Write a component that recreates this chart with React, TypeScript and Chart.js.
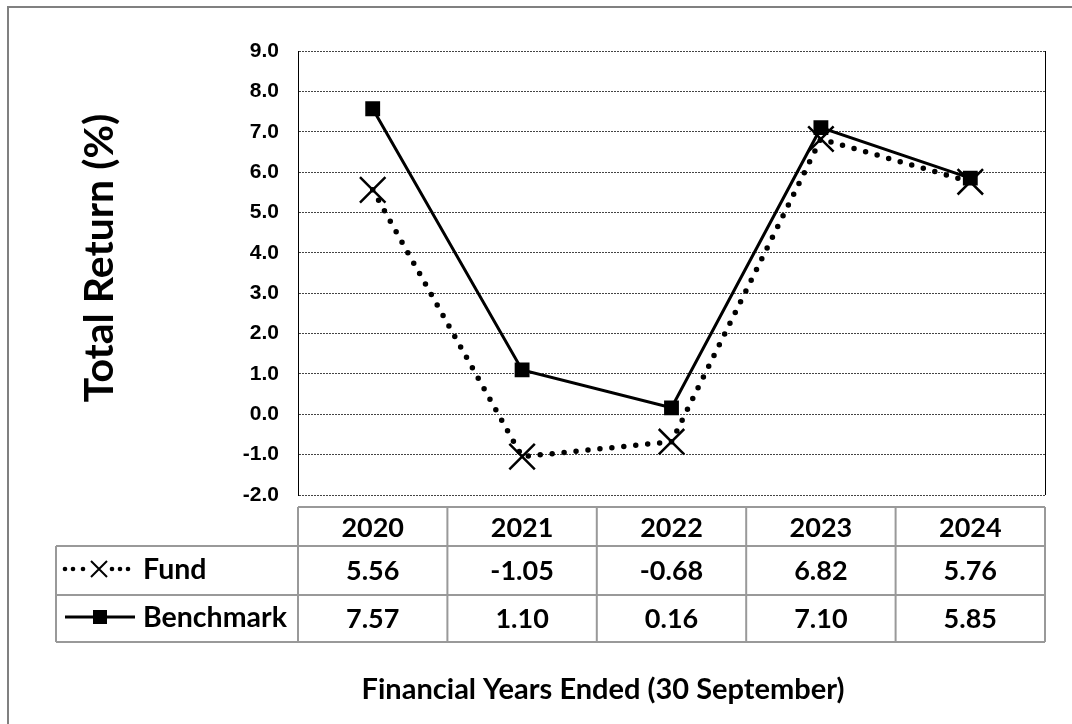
import React, { useEffect, useRef } from "react";
import { Chart, registerables } from "chart.js";

Chart.register(...registerables);

const years = ["2020", "2021", "2022", "2023", "2024"];
const fundValues = [5.56, -1.05, -0.68, 6.82, 5.76];
const benchmarkValues = [7.57, 1.1, 0.16, 7.1, 5.85];
const seriesNames = ["Fund", "Benchmark"];
const yMin = -2;
const yMax = 9;
const yStep = 1;
const yTitle = "Total Return (%)";
const xTitle = "Financial Years Ended (30 September)";

const TABLE_FONT = "Lato, 'Open Sans', sans-serif";

const tablePlugin = {
  id: "tablePlugin",
  afterDraw(chart: any) {
    const ctx: CanvasRenderingContext2D = chart.ctx;
    const area = chart.chartArea;
    const xs = chart.scales.x;
    const n = years.length;
    const cw = (area.right - area.left) / n;

    ctx.save();
    // right border of plot
    ctx.strokeStyle = "#000";
    ctx.lineWidth = 1;
    ctx.beginPath();
    ctx.moveTo(Math.round(area.right) + 0.5, area.top);
    ctx.lineTo(Math.round(area.right) + 0.5, area.bottom);
    ctx.stroke();

    // outer frame
    ctx.strokeStyle = "#808080";
    ctx.lineWidth = 2;
    ctx.beginPath();
    ctx.moveTo(8, 724);
    ctx.lineTo(8, 7);
    ctx.lineTo(1072, 7);
    ctx.stroke();

    // table geometry
    const top = 507;
    const r1 = 546;
    const r2 = 595;
    const bottom = 642;
    const labelLeft = 56;
    const left = area.left;
    const right = area.right;

    ctx.strokeStyle = "#999";
    ctx.lineWidth = 2;
    ctx.beginPath();
    ctx.moveTo(left, top); ctx.lineTo(right, top);
    ctx.moveTo(labelLeft, r1); ctx.lineTo(right, r1);
    ctx.moveTo(labelLeft, r2); ctx.lineTo(right, r2);
    ctx.moveTo(labelLeft, bottom); ctx.lineTo(right, bottom);
    ctx.moveTo(labelLeft, r1); ctx.lineTo(labelLeft, bottom);
    for (let i = 0; i <= n; i++) {
      const x = left + i * cw;
      ctx.moveTo(x, top); ctx.lineTo(x, bottom);
    }
    ctx.stroke();

    // texts
    ctx.fillStyle = "#000";
    ctx.textAlign = "center";
    ctx.textBaseline = "alphabetic";
    ctx.font = `bold 27px ${TABLE_FONT}`;
    const rows = [fundValues, benchmarkValues];
    const headBase = 537;
    const rowBase = [580, 628];
    years.forEach((y, i) => {
      const cx = xs.getPixelForValue(i);
      ctx.fillText(y, cx, headBase);
      rows.forEach((vals, r) => {
        ctx.fillText(vals[i].toFixed(2), cx, rowBase[r]);
      });
    });

    // legend labels
    ctx.textAlign = "left";
    ctx.font = `bold 28.5px ${TABLE_FONT}`;
    ctx.fillText(seriesNames[0], 143, rowBase[0] - 1);
    ctx.fillText(seriesNames[1], 143, rowBase[1] - 1);

    // legend symbols
    const fy = 569;
    ctx.fillStyle = "#000";
    [65, 73, 83, 112, 120, 128].forEach((dx) => {
      ctx.beginPath();
      ctx.arc(dx, fy, 2.3, 0, Math.PI * 2);
      ctx.fill();
    });
    ctx.strokeStyle = "#000";
    ctx.lineWidth = 2;
    ctx.beginPath();
    ctx.moveTo(91, fy - 8); ctx.lineTo(107, fy + 8);
    ctx.moveTo(107, fy - 8); ctx.lineTo(91, fy + 8);
    ctx.stroke();

    const by = 617;
    ctx.lineWidth = 3;
    ctx.beginPath();
    ctx.moveTo(65, by); ctx.lineTo(135, by);
    ctx.stroke();
    ctx.fillRect(93, by - 7, 14, 14);

    // axis titles
    ctx.textAlign = "center";
    ctx.textBaseline = "alphabetic";
    ctx.font = `bold 29px ${TABLE_FONT}`;
    ctx.fillText(xTitle, 603, 699);

    ctx.save();
    ctx.translate(113, 258);
    ctx.rotate(-Math.PI / 2);
    ctx.font = `bold 41px ${TABLE_FONT}`;
    ctx.fillText(yTitle, 0, 0);
    ctx.restore();

    ctx.restore();
  },
};

export default function App() {
  const canvasRef = useRef<HTMLCanvasElement | null>(null);

  useEffect(() => {
    document.body.style.margin = "0";
    let chart: Chart | null = null;
    let cancelled = false;
    const make = () => {
      if (cancelled || !canvasRef.current) return;
      chart = new Chart(canvasRef.current, {
        type: "line",
        data: {
          labels: years,
          datasets: [
            {
              label: seriesNames[0],
              data: fundValues,
              order: 1,
              borderColor: "#000",
              borderWidth: 5.5,
              borderDash: [0, 12],
              borderCapStyle: "round",
              tension: 0,
              pointStyle: "crossRot",
              pointRadius: 18,
              pointBorderWidth: 2.5,
              pointBorderColor: "#000",
              pointBackgroundColor: "#000",
            } as any,
            {
              label: seriesNames[1],
              data: benchmarkValues,
              order: 0,
              borderColor: "#000",
              borderWidth: 3,
              tension: 0,
              pointStyle: "rect",
              pointRadius: 10.5,
              pointBorderWidth: 0,
              pointBorderColor: "#000",
              pointBackgroundColor: "#000",
            } as any,
          ],
        },
        options: {
          responsive: false,
          animation: false,
          devicePixelRatio: 1,
          layout: { padding: { top: 51, right: 27, bottom: 229, left: 0 } },
          plugins: {
            legend: { display: false },
            tooltip: { enabled: false },
            title: { display: false },
          },
          scales: {
            x: {
              type: "category",
              offset: true,
              display: false,
            },
            y: {
              min: yMin,
              max: yMax,
              ticks: {
                stepSize: yStep,
                color: "#000",
                padding: 19,
                font: { family: "'Liberation Sans', Arial, sans-serif", weight: "bold", size: 21 },
                callback: (v: any) => Number(v).toFixed(1),
              },
              grid: { color: "#444", lineWidth: 1, drawTicks: false },
              border: { display: true, color: "#000", width: 1, dash: [2, 1] },
              afterFit: (s: any) => {
                s.width = 298;
              },
            } as any,
          },
        },
        plugins: [tablePlugin],
      });
    };
    const fontsAny = (document as any).fonts;
    if (fontsAny && fontsAny.load) {
      Promise.all([
        fontsAny.load("bold 27px Lato"),
        fontsAny.load("bold 21px 'Liberation Sans'"),
      ])
        .catch(() => {})
        .then(make);
    } else {
      make();
    }
    return () => {
      cancelled = true;
      if (chart) chart.destroy();
    };
  }, []);

  return (
    <div style={{ width: 1072, height: 724 }}>
      <canvas ref={canvasRef} width={1072} height={724} style={{ display: "block" }} />
    </div>
  );
}
